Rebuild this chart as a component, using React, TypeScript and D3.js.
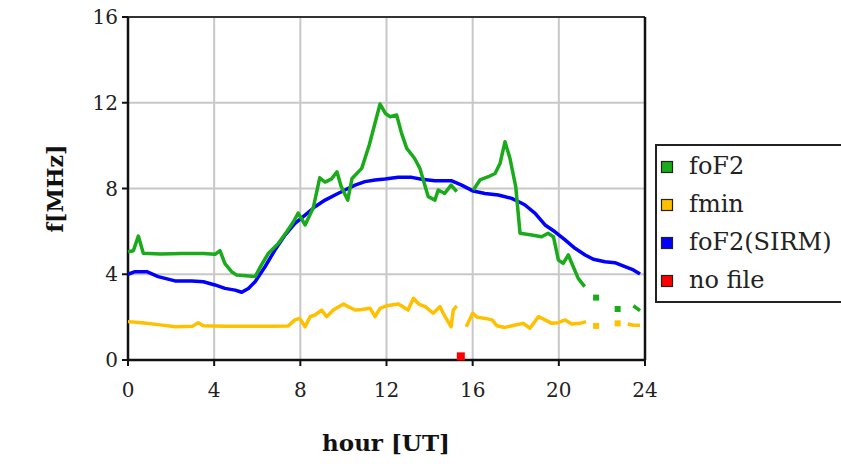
import React from "react";
import * as d3 from "d3";

const hourTicks = [0, 4, 8, 12, 16, 20, 24];
const freqTicks = [0, 4, 8, 12, 16];

const foF2Hours = [0, 0.25, 0.48, 0.71, 1.5, 2.5, 3.5, 4.04, 4.27, 4.5, 4.81, 5.05, 5.9, 6.2, 6.52, 6.98, 7.37, 7.68, 7.9, 8.05, 8.22, 8.6, 8.9, 9.15, 9.45, 9.7, 9.9, 10.2, 10.4, 10.85, 11.2, 11.7, 11.95, 12.16, 12.47, 12.7, 12.94, 13.3, 13.55, 13.8, 13.94, 14.25, 14.4, 14.7, 15.0, 15.26, 15.6, 16.03, 16.34, 16.73, 17.04, 17.27, 17.5, 17.73, 18.0, 18.2, 18.74, 19.2, 19.5, 19.75, 19.98, 20.2, 20.44, 20.67, 20.9, 21.2, 21.45, 21.73, 22.2, 22.73, 23.1, 23.46, 23.77];
const foF2Values = [5.05, 5.1, 5.78, 4.98, 4.95, 4.97, 4.97, 4.93, 5.1, 4.5, 4.12, 3.96, 3.89, 4.45, 4.98, 5.44, 5.98, 6.45, 6.85, 6.6, 6.3, 7.1, 8.5, 8.3, 8.45, 8.78, 8.08, 7.46, 8.47, 8.94, 10.03, 11.94, 11.5, 11.35, 11.43, 10.57, 9.87, 9.41, 8.94, 8.08, 7.62, 7.46, 7.93, 7.77, 8.16, 7.85, NaN, 7.93, 8.4, 8.55, 8.7, 9.17, 10.18, 9.41, 8.08, 5.91, 5.83, 5.75, 5.91, 5.75, 4.66, 4.51, 4.9, 4.35, 3.81, 3.42, NaN, 2.91, NaN, 2.38, NaN, 2.53, 2.3];

const fminHours = [0, 0.65, 1.4, 2.2, 3.0, 3.26, 3.5, 4.5, 5.5, 6.5, 7.44, 7.75, 7.97, 8.22, 8.45, 8.68, 8.99, 9.22, 9.53, 10.0, 10.2, 10.54, 10.85, 11.24, 11.47, 11.7, 12.0, 12.55, 13.0, 13.25, 13.5, 13.8, 14.17, 14.48, 14.72, 15.0, 15.1, 15.26, 15.5, 15.7, 16.0, 16.2, 16.57, 16.9, 17.12, 17.5, 17.97, 18.35, 18.66, 19.05, 19.36, 19.67, 19.98, 20.29, 20.6, 20.98, 21.26, 21.5, 21.73, 22.2, 22.73, 22.95, 23.2, 23.46, 23.77];
const fminValues = [1.79, 1.74, 1.65, 1.55, 1.58, 1.74, 1.6, 1.58, 1.58, 1.58, 1.59, 1.87, 1.94, 1.55, 2.02, 2.1, 2.33, 2.02, 2.33, 2.61, 2.5, 2.33, 2.36, 2.41, 2.02, 2.41, 2.53, 2.61, 2.33, 2.88, 2.61, 2.49, 2.18, 2.49, 2.02, 1.55, 2.33, 2.52, NaN, 1.55, 2.18, 2.0, 1.94, 1.87, 1.6, 1.52, 1.63, 1.71, 1.48, 2.02, 1.87, 1.71, 1.74, 1.87, 1.68, 1.71, 1.79, NaN, 1.59, NaN, 1.71, NaN, 1.68, 1.62, 1.62];

const sirmHours = [0, 0.33, 0.87, 1.4, 2.18, 2.96, 3.5, 4.04, 4.5, 4.97, 5.28, 5.59, 5.9, 6.36, 6.82, 7.29, 7.75, 8.22, 8.68, 9.15, 9.61, 10.07, 10.54, 11.0, 11.47, 11.93, 12.55, 13.17, 13.63, 14.25, 15.03, 15.49, 16.03, 16.57, 17.19, 17.81, 18.28, 18.43, 18.9, 19.36, 19.82, 20.29, 20.75, 21.22, 21.6, 22.14, 22.6, 23.07, 23.46, 23.77];
const sirmValues = [4.0, 4.12, 4.12, 3.89, 3.69, 3.69, 3.65, 3.5, 3.34, 3.26, 3.16, 3.34, 3.65, 4.35, 5.13, 5.83, 6.37, 6.76, 7.15, 7.46, 7.7, 7.93, 8.16, 8.32, 8.4, 8.44, 8.52, 8.52, 8.43, 8.36, 8.36, 8.16, 7.88, 7.77, 7.7, 7.54, 7.31, 7.23, 6.84, 6.3, 5.98, 5.6, 5.21, 4.9, 4.7, 4.58, 4.54, 4.35, 4.2, 4.01];

const noFileHours = [15.45];
const noFileValues = [0.17];

const legendLabels = ["foF2", "fmin", "foF2(SIRM)", "no file"];
const legendColors = ["#1aab1a", "#ffc000", "#0000ff", "#ff0000"];

const W = 841;
const H = 464;
const M = { left: 128, right: 645, top: 17, bottom: 360 };

type P = [number, number];

function pairs(hs: number[], vs: number[]): P[] {
  return hs.map((h, i) => [h, vs[i]] as P);
}

export default function App() {
  const x = d3.scaleLinear().domain([0, 24]).range([M.left, M.right]);
  const y = d3.scaleLinear().domain([0, 16]).range([M.bottom, M.top]);
  const line = d3
    .line<P>()
    .defined((d) => !isNaN(d[1]))
    .x((d) => x(d[0]))
    .y((d) => y(d[1]));

  const series = [
    { data: pairs(fminHours, fminValues), color: legendColors[1] },
    { data: pairs(sirmHours, sirmValues), color: legendColors[2] },
    { data: pairs(foF2Hours, foF2Values), color: legendColors[0] },
  ];

  const isolated = (data: P[]) =>
    data.filter(
      (d, i) =>
        !isNaN(d[1]) &&
        (i === 0 || isNaN(data[i - 1][1])) &&
        (i === data.length - 1 || isNaN(data[i + 1][1]))
    );

  const font = "'DejaVu Serif', serif";

  return (
    <svg
      width={W}
      height={H}
      style={{ position: "absolute", left: 0, top: 0, background: "#fff" }}
    >
      <rect x={0} y={0} width={W} height={H} fill="#fff" />
      {/* grid */}
      {hourTicks.slice(1, -1).map((t) => (
        <line key={"gx" + t} x1={x(t)} x2={x(t)} y1={M.top} y2={M.bottom} stroke="#c8c8c8" strokeWidth={2} />
      ))}
      {freqTicks.slice(1, -1).map((t) => (
        <line key={"gy" + t} x1={M.left} x2={M.right} y1={y(t)} y2={y(t)} stroke="#c8c8c8" strokeWidth={2} />
      ))}
      {/* frame */}
      <line x1={M.left} x2={M.right} y1={M.top} y2={M.top} stroke="#333" strokeWidth={2} />
      <line x1={M.right} x2={M.right} y1={M.top} y2={M.bottom} stroke="#111" strokeWidth={2.5} />
      <line x1={M.left} x2={M.left} y1={M.top} y2={M.bottom} stroke="#111" strokeWidth={2.5} />
      <line x1={M.left} x2={M.right} y1={M.bottom} y2={M.bottom} stroke="#111" strokeWidth={2.5} />
      {/* ticks */}
      {freqTicks.map((t) => (
        <g key={"ty" + t}>
          <line x1={M.left - 6} x2={M.left} y1={y(t)} y2={y(t)} stroke="#111" strokeWidth={2} />
          <text x={M.left - 10} y={y(t)} dy="0.35em" textAnchor="end" fontFamily={font} fontSize={20} fill="#222">
            {t}
          </text>
        </g>
      ))}
      {hourTicks.map((t) => (
        <g key={"tx" + t}>
          <line x1={x(t)} x2={x(t)} y1={M.bottom} y2={M.bottom + 6} stroke="#111" strokeWidth={2} />
          <text x={x(t)} y={M.bottom + 37} textAnchor="middle" fontFamily={font} fontSize={20} fill="#222">
            {t}
          </text>
        </g>
      ))}
      {/* series */}
      {series.map((s, i) => (
        <g key={"s" + i}>
          <path d={line(s.data) || ""} fill="none" stroke={s.color} strokeWidth={3.5} strokeLinejoin="round" />
          {isolated(s.data).map((d, j) => (
            <rect key={j} x={x(d[0]) - 3} y={y(d[1]) - 3} width={6} height={6} fill={s.color} />
          ))}
        </g>
      ))}
      {noFileHours.map((h, i) => (
        <rect key={"nf" + i} x={x(h) - 4} y={y(noFileValues[i]) - 4} width={8} height={8} fill={legendColors[3]} />
      ))}
      {/* axis titles */}
      <text x={386} y={451} textAnchor="middle" fontFamily={font} fontWeight="bold" fontSize={23} fill="#111">
        hour [UT]
      </text>
      <text
        transform={`translate(63,${(M.top + M.bottom) / 2}) rotate(-90)`}
        textAnchor="middle"
        fontFamily={font}
        fontWeight="bold"
        fontSize={22}
        fill="#111"
      >
        f[MHz]
      </text>
      {/* legend */}
      <rect x={656} y={145} width={200} height={157} fill="#fff" stroke="#222" strokeWidth={2} />
      {legendLabels.map((l, i) => (
        <g key={"lg" + i}>
          <rect x={661.5} y={161.5 + i * 38} width={11} height={11} fill={legendColors[i]} stroke="#222" strokeWidth={1.2} />
          <text x={689} y={166 + i * 38} dy="0.35em" fontFamily={font} fontSize={24} fill="#222">
            {l}
          </text>
        </g>
      ))}
    </svg>
  );
}
